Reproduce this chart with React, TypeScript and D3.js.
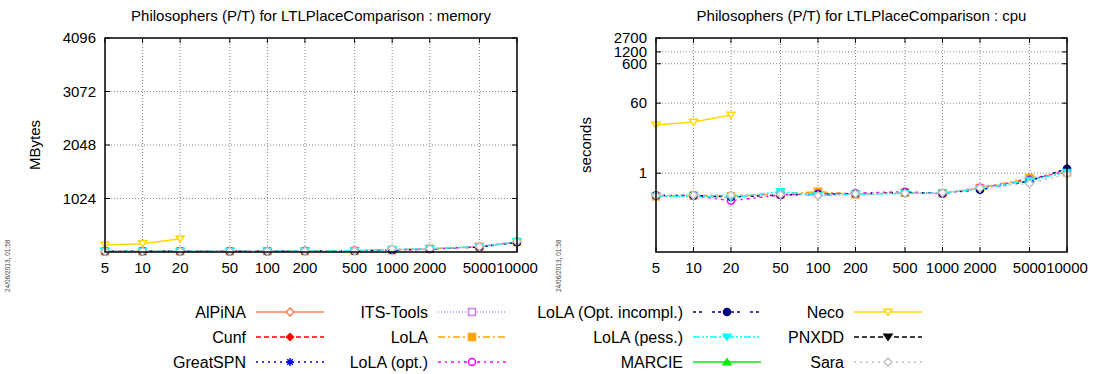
import * as d3 from "d3";
import React from "react";

const sizes = [5, 10, 20, 50, 100, 200, 500, 1000, 2000, 5000, 10000];

const tools = [
  "AlPiNA",
  "Cunf",
  "GreatSPN",
  "ITS-Tools",
  "LoLA",
  "LoLA (opt.)",
  "LoLA (Opt. incompl.)",
  "LoLA (pess.)",
  "MARCIE",
  "Neco",
  "PNXDD",
  "Sara",
];

// memory (MBytes)
const lolaMemory = [14, 14, 14, 15, 16, 18, 22, 40, 60, 100, 190];
const lolaOptMemory = [13, 13, 13, 14, 15, 17, 22, 38, 58, 98, 195];
const lolaIncomplMemory = [13, 13, 14, 14, 15, 17, 21, 36, 56, 95, 185];
const lolaPessMemory = [14, 14, 14, 15, 16, 18, 24, 45, 62, 102, 200];
const necoMemory = [134, 160, 255];
const saraMemory = [15, 15, 15, 15, 16, 18, 22, 62, 64, 104, 200];

// cpu (seconds)
const lolaCpu = [0.26, 0.27, 0.26, 0.29, 0.34, 0.29, 0.32, 0.31, 0.42, 0.75, 1.05];
const lolaOptCpu = [0.27, 0.27, 0.2, 0.28, 0.3, 0.31, 0.34, 0.3, 0.43, 0.68, 1.15];
const lolaIncomplCpu = [0.27, 0.27, 0.25, 0.28, 0.29, 0.3, 0.32, 0.31, 0.38, 0.64, 1.3];
const lolaPessCpu = [0.26, 0.26, 0.24, 0.34, 0.27, 0.29, 0.31, 0.31, 0.4, 0.66, 1.05];
const necoCpu = [16.7, 19.8, 30];
const saraCpu = [0.27, 0.28, 0.28, 0.29, 0.27, 0.3, 0.31, 0.32, 0.42, 0.55, 0.95];

const memoryTicks = [1024, 2048, 3072, 4096];
const cpuTicks = [1, 60, 600, 1200, 2700];

const memoryByTool: Record<string, number[]> = {
  LoLA: lolaMemory,
  "LoLA (opt.)": lolaOptMemory,
  "LoLA (Opt. incompl.)": lolaIncomplMemory,
  "LoLA (pess.)": lolaPessMemory,
  Neco: necoMemory,
  Sara: saraMemory,
};
const cpuByTool: Record<string, number[]> = {
  LoLA: lolaCpu,
  "LoLA (opt.)": lolaOptCpu,
  "LoLA (Opt. incompl.)": lolaIncomplCpu,
  "LoLA (pess.)": lolaPessCpu,
  Neco: necoCpu,
  Sara: saraCpu,
};

// styles
const colors = [
  "#ff7f50", "#ff0000", "#0000ff", "#c080ff", "#ffa500", "#ff00ff",
  "#000080", "#00ffff", "#00ee00", "#ffd700", "#000000", "#c0c0c0",
];
const dashes = [
  "", "5,3", "2,4", "1,2", "7,3,2,3", "3,4,2,4",
  "3,3,3,10", "7,2,2,2,2,2", "", "", "5,3", "2,4",
];
const markers = [
  "diamondOpen", "diamondFilled", "star", "squareOpen", "squareFilled", "circleOpen",
  "circleFilled", "triDownFilled", "triUpFilled", "triDownOpen", "triDownFilled", "diamondOpen",
];

const FONT = "'Liberation Sans', Arial, Helvetica, sans-serif";

const Marker = ({ type, color, x, y }: { type: string; color: string; x: number; y: number }) => {
  const filled = type.endsWith("Filled");
  const fill = filled ? color : "white";
  const sw = 1.5;
  if (type.startsWith("diamond")) {
    const r = filled ? 3.5 : 4;
    return <path d={`M${x},${y - r}L${x + r},${y}L${x},${y + r}L${x - r},${y}Z`} fill={fill} stroke={color} strokeWidth={sw} />;
  }
  if (type.startsWith("square")) {
    const r = 3.5;
    return <rect x={x - r} y={y - r} width={2 * r} height={2 * r} fill={fill} stroke={color} strokeWidth={sw} />;
  }
  if (type.startsWith("circle")) {
    return <circle cx={x} cy={y} r={3.5} fill={fill} stroke={color} strokeWidth={sw} />;
  }
  if (type.startsWith("triDown")) {
    const r = 4;
    return <path d={`M${x - r},${y - r * 0.7}L${x + r},${y - r * 0.7}L${x},${y + r * 0.8}Z`} fill={fill} stroke={color} strokeWidth={sw} />;
  }
  if (type.startsWith("triUp")) {
    const r = 4;
    return <path d={`M${x - r},${y + r * 0.7}L${x + r},${y + r * 0.7}L${x},${y - r * 0.8}Z`} fill={fill} stroke={color} strokeWidth={sw} />;
  }
  const r = 4;
  return (
    <path
      d={`M${x - r},${y}L${x + r},${y}M${x},${y - r}L${x},${y + r}M${x - r * 0.7},${y - r * 0.7}L${x + r * 0.7},${y + r * 0.7}M${x - r * 0.7},${y + r * 0.7}L${x + r * 0.7},${y - r * 0.7}`}
      stroke={color}
      strokeWidth={sw}
      fill="none"
    />
  );
};

type ChartProps = {
  title: string;
  yLabel: string;
  x0: number;
  x1: number;
  yScale: d3.ScaleContinuousNumeric<number, number>;
  yTicks: number[];
  data: Record<string, number[]>;
  yLabelX: number;
};

const top = 38;
const bottom = 252;

const Chart = ({ title, yLabel, x0, x1, yScale, yTicks, data, yLabelX }: ChartProps) => {
  const x = d3.scaleLog().domain([5, 10000]).range([x0, x1]);
  const tick = 5;
  return (
    <g fontFamily={FONT}>
      <text x={(x0 + x1) / 2} y={21} textAnchor="middle" fontSize={15}>
        {title}
      </text>
      {sizes.map((s) => (
        <g key={"x" + s}>
          {s !== 5 && s !== 10000 && (
            <line x1={x(s)} x2={x(s)} y1={top} y2={bottom} stroke="#888" strokeDasharray="1,2" />
          )}
          <line x1={x(s)} x2={x(s)} y1={bottom} y2={bottom - tick} stroke="#000" />
          <line x1={x(s)} x2={x(s)} y1={top} y2={top + tick} stroke="#000" />
          <text x={x(s)} y={273} textAnchor="middle" fontSize={15}>
            {s}
          </text>
        </g>
      ))}
      {yTicks.map((t) => (
        <g key={"y" + t}>
          {yScale(t) > top + 1 && (
            <line x1={x0} x2={x1} y1={yScale(t)} y2={yScale(t)} stroke="#888" strokeDasharray="1,2" />
          )}
          <line x1={x0} x2={x0 + tick} y1={yScale(t)} y2={yScale(t)} stroke="#000" />
          <line x1={x1} x2={x1 - tick} y1={yScale(t)} y2={yScale(t)} stroke="#000" />
          <text x={x0 - 9} y={yScale(t) + 5} textAnchor="end" fontSize={15}>
            {t}
          </text>
        </g>
      ))}
      <text transform={`translate(${yLabelX},145) rotate(-90)`} textAnchor="middle" fontSize={15}>
        {yLabel}
      </text>
      <text
        transform={`translate(${x0 - 95},292) rotate(-90)`}
        fontSize={6.5}
        fill="#444"
      >
        24/06/2013, 01:58
      </text>
      {tools.map((name, i) => {
        const vals = data[name];
        if (!vals) return null;
        const pts = vals.map((v, k) => [x(sizes[k]), yScale(v)] as [number, number]);
        const line = d3.line();
        return (
          <g key={name}>
            <path d={line(pts) || ""} fill="none" stroke={colors[i]} strokeWidth={1.5} strokeDasharray={dashes[i]} />
            {pts.map((p, k) => (
              <Marker key={k} type={markers[i]} color={colors[i]} x={p[0]} y={p[1]} />
            ))}
          </g>
        );
      })}
      <rect x={x0} y={top} width={x1 - x0} height={bottom - top} fill="none" stroke="#000" strokeWidth={1.5} />
    </g>
  );
};

const legendLabelRight = [246, 428, 683, 844];
const legendRows = [312, 337, 362];

const Legend = () => (
  <g fontFamily={FONT}>
    {tools.map((name, i) => {
      const col = Math.floor(i / 3);
      const row = i % 3;
      const lx = legendLabelRight[col];
      const y = legendRows[row];
      const s0 = lx + 10;
      const s1 = lx + 78;
      return (
        <g key={name}>
          <text x={lx} y={y + 5.5} textAnchor="end" fontSize={16}>
            {name}
          </text>
          <line x1={s0} x2={s1} y1={y} y2={y} stroke={colors[i]} strokeWidth={1.5} strokeDasharray={dashes[i]} />
          <Marker type={markers[i]} color={colors[i]} x={(s0 + s1) / 2} y={y} />
        </g>
      );
    })}
  </g>
);

export default function App() {
  const memY = d3.scaleLinear().domain([0, 4096]).range([bottom, top]);
  const cpuY = d3.scaleLog().domain([0.01, 2700]).range([bottom, top]);
  return (
    <svg
      width={1094}
      height={374}
      style={{ position: "absolute", left: 0, top: 0, background: "white" }}
    >
      <Chart
        title="Philosophers (P/T) for LTLPlaceComparison : memory"
        yLabel="MBytes"
        x0={105}
        x1={517}
        yScale={memY}
        yTicks={memoryTicks}
        data={memoryByTool}
        yLabelX={40}
      />
      <Chart
        title="Philosophers (P/T) for LTLPlaceComparison : cpu"
        yLabel="seconds"
        x0={656}
        x1={1067}
        yScale={cpuY}
        yTicks={cpuTicks}
        data={cpuByTool}
        yLabelX={591}
      />
      <Legend />
    </svg>
  );
}
